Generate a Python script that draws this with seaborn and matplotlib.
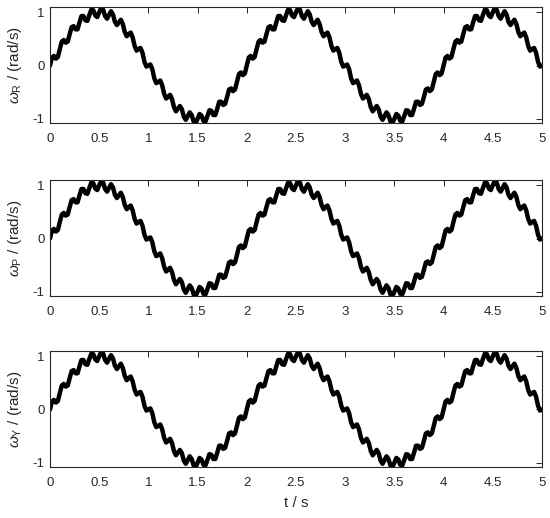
import numpy as np
import pandas as pd
import seaborn as sns
import matplotlib
matplotlib.use('Agg')
import matplotlib.pyplot as plt

# angular rate read off the reference, sampled every 0.02 s from 0 to 5 s
# (all three panels show the same trace)
omega = [
    0.00, 0.15, 0.18, 0.13, 0.16, 0.31, 0.45, 0.48, 0.43, 0.45,
    0.59, 0.72, 0.74, 0.68, 0.68, 0.81, 0.93, 0.93, 0.85, 0.84,
    0.95, 1.05, 1.04, 0.94, 0.91, 1.00, 1.08, 1.05, 0.93, 0.88,
    0.95, 1.02, 0.96, 0.82, 0.76, 0.81, 0.86, 0.78, 0.63, 0.55,
    0.59, 0.62, 0.53, 0.37, 0.28, 0.31, 0.33, 0.24, 0.07, -0.02,
    0.00, 0.02, -0.07, -0.24, -0.33, -0.31, -0.28, -0.37, -0.53, -0.62,
    -0.59, -0.55, -0.63, -0.78, -0.86, -0.81, -0.76, -0.82, -0.96, -1.02,
    -0.95, -0.88, -0.93, -1.05, -1.08, -1.00, -0.91, -0.94, -1.04, -1.05,
    -0.95, -0.84, -0.85, -0.93, -0.93, -0.81, -0.68, -0.68, -0.74, -0.72,
    -0.59, -0.45, -0.43, -0.48, -0.45, -0.31, -0.16, -0.13, -0.18, -0.15,
    0.00, 0.15, 0.18, 0.13, 0.16, 0.31, 0.45, 0.48, 0.43, 0.45,
    0.59, 0.72, 0.74, 0.68, 0.68, 0.81, 0.93, 0.93, 0.85, 0.84,
    0.95, 1.05, 1.04, 0.94, 0.91, 1.00, 1.08, 1.05, 0.93, 0.88,
    0.95, 1.02, 0.96, 0.82, 0.76, 0.81, 0.86, 0.78, 0.63, 0.55,
    0.59, 0.62, 0.53, 0.37, 0.28, 0.31, 0.33, 0.24, 0.07, -0.02,
    0.00, 0.02, -0.07, -0.24, -0.33, -0.31, -0.28, -0.37, -0.53, -0.62,
    -0.59, -0.55, -0.63, -0.78, -0.86, -0.81, -0.76, -0.82, -0.96, -1.02,
    -0.95, -0.88, -0.93, -1.05, -1.08, -1.00, -0.91, -0.94, -1.04, -1.05,
    -0.95, -0.84, -0.85, -0.93, -0.93, -0.81, -0.68, -0.68, -0.74, -0.72,
    -0.59, -0.45, -0.43, -0.48, -0.45, -0.31, -0.16, -0.13, -0.18, -0.15,
    0.00, 0.15, 0.18, 0.13, 0.16, 0.31, 0.45, 0.48, 0.43, 0.45,
    0.59, 0.72, 0.74, 0.68, 0.68, 0.81, 0.93, 0.93, 0.85, 0.84,
    0.95, 1.05, 1.04, 0.94, 0.91, 1.00, 1.08, 1.05, 0.93, 0.88,
    0.95, 1.02, 0.96, 0.82, 0.76, 0.81, 0.86, 0.78, 0.63, 0.55,
    0.59, 0.62, 0.53, 0.37, 0.28, 0.31, 0.33, 0.24, 0.07, -0.02,
    0.00,
]
t = np.linspace(0, 5, len(omega))

axes_names = ['R', 'P', 'Y']
xticks = [0, 0.5, 1, 1.5, 2, 2.5, 3, 3.5, 4, 4.5, 5]
xticklabels = ['0', '0.5', '1', '1.5', '2', '2.5', '3', '3.5', '4', '4.5', '5']
yticks = [-1, 0, 1]
yticklabels = ['-1', '0', '1']

sns.set_style('white')
plt.rcParams['font.family'] = ['Liberation Sans', 'DejaVu Sans']
plt.rcParams['mathtext.fontset'] = 'custom'
plt.rcParams['mathtext.rm'] = 'Liberation Sans'
plt.rcParams['mathtext.it'] = 'Liberation Sans:italic'

fig = plt.figure(figsize=(5.5, 5.18), dpi=100)
# panel bottoms in figure fraction (top to bottom)
bottoms = [0.7625, 0.4286, 0.0985]

df = pd.DataFrame({'t': t, 'omega': omega})

for name, b in zip(axes_names, bottoms):
    ax = fig.add_axes([0.0909, b, 0.8945, 0.224])
    sns.lineplot(data=df, x='t', y='omega', ax=ax, color='black',
                 linewidth=3.2, legend=False)
    ax.set_xlim(0, 5)
    ax.set_ylim(-1.08, 1.1)
    ax.set_xticks(xticks)
    ax.set_xticklabels(xticklabels)
    ax.set_yticks(yticks)
    ax.set_yticklabels(yticklabels)
    ax.tick_params(direction='in', top=True, right=True, length=4,
                   width=0.7, labelsize=9.5, colors='#262626')
    ax.tick_params(axis='x', pad=7)
    ax.tick_params(axis='y', pad=4)
    for s in ax.spines.values():
        s.set_color('#262626')
        s.set_linewidth(0.8)
    ax.set_ylabel(r'$\omega_\mathrm{%s}$ / (rad/s)' % name, fontsize=11,
                  labelpad=6)
    ax.set_xlabel('')

ax.set_xlabel('t / s', fontsize=11, labelpad=5)

fig.savefig('out.png', dpi=100)
